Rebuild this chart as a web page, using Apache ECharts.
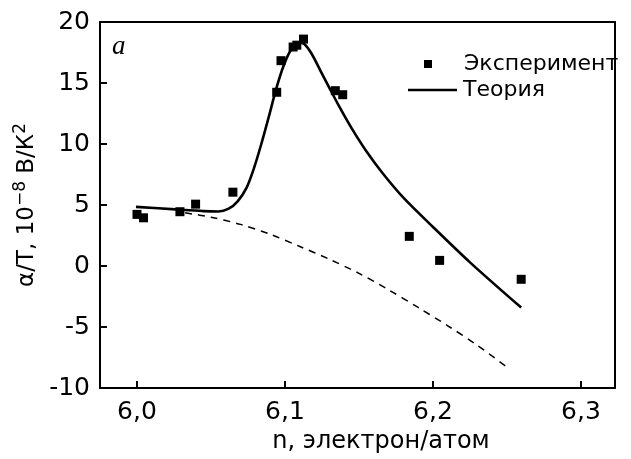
<!DOCTYPE html>
<html>
<head>
<meta charset="utf-8">
<script src="https://cdn.jsdelivr.net/npm/echarts@6/dist/echarts.min.js"></script>
<style>
  html, body { margin: 0; padding: 0; background: #fff; }
  #chart { width: 631px; height: 459px; }
</style>
</head>
<body>
<div id="chart"></div>
<script>
// экспериментальные точки
var expX = [6.000, 6.0044, 6.029, 6.0396, 6.0648, 6.0944, 6.0973, 6.1055, 6.108, 6.1125, 6.134, 6.139, 6.184, 6.2045, 6.2596];
var expY = [4.23, 3.95, 4.45, 5.07, 6.05, 14.24, 16.83, 17.95, 18.1, 18.6, 14.37, 14.04, 2.43, 0.46, -1.09];

// теория (сплошная)
var theoryX = [5.9993, 6.026, 6.045, 6.055, 6.062, 6.068, 6.074, 6.079, 6.084, 6.089, 6.094, 6.099, 6.104, 6.109, 6.113, 6.118, 6.124, 6.130, 6.137, 6.145, 6.155, 6.166, 6.180, 6.200, 6.225, 6.2596];
var theoryY = [4.85, 4.64, 4.50, 4.47, 4.70, 5.30, 6.40, 8.00, 10.0, 12.2, 14.5, 16.4, 17.7, 18.3, 18.2, 17.4, 16.0, 14.6, 13.0, 11.3, 9.4, 7.6, 5.6, 3.2, 0.3, -3.41];

// пунктир
var dashX = [6.0325, 6.05, 6.07, 6.09, 6.11, 6.13, 6.15, 6.17, 6.19, 6.21, 6.23, 6.2503];
var dashY = [4.36, 4.0, 3.41, 2.6, 1.6, 0.55, -0.6, -1.95, -3.4, -4.9, -6.5, -8.32];

var xTicks = [6.0, 6.1, 6.2, 6.3];
var yTicks = [-10, -5, 0, 5, 10, 15, 20];

function pairs(xs, ys) {
    var out = [];
    for (var i = 0; i < xs.length; i++) out.push([xs[i], ys[i]]);
    return out;
}

var chart = echarts.init(document.getElementById('chart'));
var font = '"DejaVu Sans", sans-serif';

var option = {
    animation: false,
    grid: { left: 100, right: 16, top: 22, bottom: 71 },
    legend: [
        {
            data: ['Эксперимент'],
            left: 419, top: 48,
            icon: 'rect', itemWidth: 8, itemHeight: 8,
            textStyle: { fontFamily: font, fontSize: 22, color: '#000', padding: [0, 0, 0, 27] }
        },
        {
            data: [{ name: 'Теория', icon: 'rect' }],
            left: 403, top: 74,
            itemWidth: 49, itemHeight: 2.5,
            textStyle: { fontFamily: font, fontSize: 22, color: '#000', padding: [0, 0, 0, 1] }
        }
    ],
    xAxis: [
        {
            type: 'value', min: 5.975, max: 6.323,
            axisLine: { onZero: false, lineStyle: { color: '#000', width: 2 } },
            axisTick: { inside: true, length: 7, customValues: xTicks, lineStyle: { width: 2, color: '#000' } },
            axisLabel: {
                customValues: xTicks, margin: 12,
                fontFamily: font, fontSize: 25, color: '#000',
                formatter: function (v) { return v.toFixed(1).replace('.', ','); }
            },
            splitLine: { show: false }
        },
        {
            type: 'value', position: 'top', min: 5.975, max: 6.323,
            axisLine: { onZero: false, lineStyle: { color: '#000', width: 2 } },
            axisTick: { show: false }, axisLabel: { show: false }, splitLine: { show: false }
        }
    ],
    yAxis: [
        {
            type: 'value', min: -10, max: 20,
            name: '{a|α/T, 10}{s|−8}{a| В/К}{s|2}',
            nameLocation: 'middle', nameRotate: 90, nameGap: 54,
            nameTextStyle: {
                rich: {
                    a: { fontFamily: font, fontSize: 23, color: '#000' },
                    s: { fontFamily: font, fontSize: 17, color: '#000', verticalAlign: 'top', padding: [0, 0, 12, 0] }
                }
            },
            axisLine: { onZero: false, lineStyle: { color: '#000', width: 2 } },
            axisTick: { inside: true, length: 7, customValues: yTicks, lineStyle: { width: 2, color: '#000' } },
            axisLabel: {
                customValues: yTicks, margin: 10,
                fontFamily: font, fontSize: 25, color: '#000'
            },
            splitLine: { show: false }
        },
        {
            type: 'value', position: 'right', min: -10, max: 20,
            axisLine: { onZero: false, lineStyle: { color: '#000', width: 2 } },
            axisTick: { show: false }, axisLabel: { show: false }, splitLine: { show: false }
        }
    ],
    graphic: [
        {
            type: 'text', left: 112, top: 33,
            style: { text: 'a', font: 'italic 27px "Liberation Serif", "DejaVu Serif", serif', fill: '#000' }
        },
        {
            type: 'text', x: 381, y: 442,
            style: {
                text: 'n, электрон/атом', fill: '#000',
                font: '24px "DejaVu Sans", sans-serif', align: 'center', verticalAlign: 'middle'
            }
        }
    ],
    series: [
        {
            name: 'Теория', type: 'line', data: pairs(theoryX, theoryY),
            smooth: 0.3, showSymbol: false, symbol: 'none',
            lineStyle: { color: '#000', width: 2.6 }, itemStyle: { color: '#000' }, z: 3
        },
        {
            name: 'Пунктир', type: 'line', data: pairs(dashX, dashY),
            smooth: 0.3, showSymbol: false, symbol: 'none',
            lineStyle: { color: '#000', width: 1.5, type: [7, 6] }, z: 2
        },
        {
            name: 'Эксперимент', type: 'scatter', data: pairs(expX, expY),
            symbol: 'rect', symbolSize: 9, itemStyle: { color: '#000', opacity: 1 }, z: 4
        }
    ]
};

chart.setOption(option);
</script>
</body>
</html>
